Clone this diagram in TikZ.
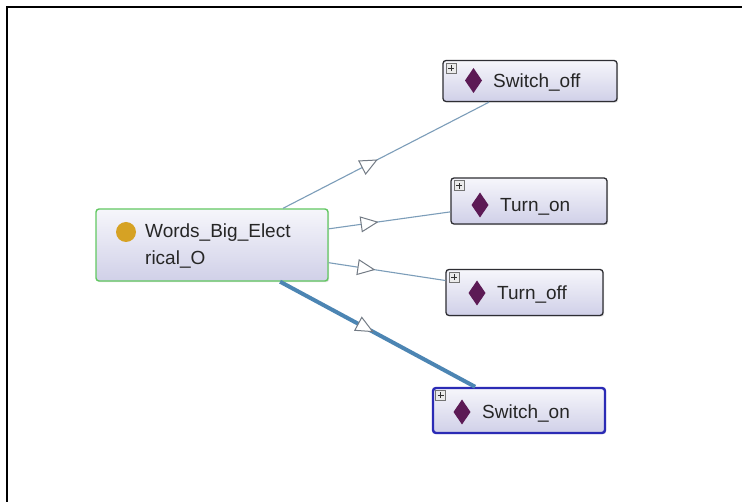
\documentclass[tikz,border=0pt]{standalone}
\usepackage{fontspec}
\setmainfont{Liberation Sans}
\usetikzlibrary{arrows.meta,decorations.markings,shadows}
\definecolor{edgecol}{HTML}{7C9DB9}
\definecolor{thickedge}{HTML}{4C85B3}
\definecolor{tipcol}{HTML}{737B85}
\definecolor{boxtop}{HTML}{F6F6FB}
\definecolor{boxbot}{HTML}{D0D0E8}
\definecolor{boxline}{HTML}{2E2E33}
\definecolor{greenline}{HTML}{62C862}
\definecolor{blueline}{HTML}{2B2BB5}
\definecolor{diacol}{HTML}{5C1A55}
\definecolor{dotcol}{HTML}{D6A224}
\tikzset{
  clsbox/.style={rectangle, rounded corners=3pt, inner sep=0pt, draw=boxline,
    line width=1.3pt, top color=boxtop, bottom color=boxbot,
    drop shadow={shadow xshift=1.2pt, shadow yshift=-1.2pt, opacity=0.25}},
  lbl/.style={inner sep=0pt, anchor=base west, font=\fontsize{19}{27}\selectfont, text=black!85},
  plusbox/.style={rectangle, draw=black!55, fill=black!8, minimum size=10pt, inner sep=0pt, line width=0.6pt},
  thinedge/.style={draw=edgecol, line width=1.1pt},
  fatedge/.style={draw=thickedge, line width=4pt},
  midtip/.style={postaction={decorate}, decoration={markings,
    mark=at position #1 with {\arrow{Triangle[length=18pt, width=16pt, line width=1pt, color=tipcol, fill=white]}}}},
}
\newcommand{\diam}[2]{\fill[diacol] (#1,#2-12.5) -- (#1+8.5,#2) -- (#1,#2+12.5) -- (#1-8.5,#2) -- cycle;}
\begin{document}
\begin{tikzpicture}[x=1pt,y=-1pt]
\useasboundingbox (0,0) rectangle (742,502);
\fill[white] (0,0) rectangle (742,502);
\draw[black, line width=1.5pt] (7,502) -- (7,7) -- (742,7);

% boxes
\node[clsbox, draw=greenline, line width=1.4pt, minimum width=232pt, minimum height=72pt] (main) at (212,245) {};
\node[clsbox, minimum width=174pt, minimum height=41pt] (swoff) at (530,81) {};
\node[clsbox, minimum width=156pt, minimum height=46pt] (ton) at (529,201) {};
\node[clsbox, minimum width=157pt, minimum height=46pt] (toff) at (524.5,292.5) {};
\node[clsbox, draw=blueline, line width=2.4pt, minimum width=172pt, minimum height=45pt] (swon) at (519,410.5) {};

% edges
\draw[thinedge, midtip=0.46] (main) -- (swoff);
\draw[thinedge, midtip=0.41] (main) -- (ton);
\draw[thinedge, midtip=0.40] (main) -- (toff);
\draw[fatedge, midtip=0.48] (main) -- (swon);

% main contents
\fill[dotcol] (126,232) circle (10pt);
\node[lbl, align=left] (maint) at (145,265) {Words\_Big\_Elect\\rical\_O};

% plus icons
\foreach \b in {swoff,ton,toff,swon}{
  \node[plusbox, anchor=north west] (\b p) at ([xshift=3.5pt,yshift=-3pt]\b.north west) {};
  \draw[black!80, line width=1pt] ([xshift=-3pt]\b p.center) -- ([xshift=3pt]\b p.center)
        ([yshift=-3pt]\b p.center) -- ([yshift=3pt]\b p.center);
}

% diamonds and labels
\diam{473.5}{80.5}
\node[lbl] (swofft) at (493,87.5) {Switch\_off};
\diam{480}{205}
\node[lbl] (tont) at (500,211.5) {Turn\_on};
\diam{477}{293}
\node[lbl] (tofft) at (497,299.5) {Turn\_off};
\diam{462}{412}
\node[lbl] (swont) at (482,418.5) {Switch\_on};
\end{tikzpicture}
\end{document}
